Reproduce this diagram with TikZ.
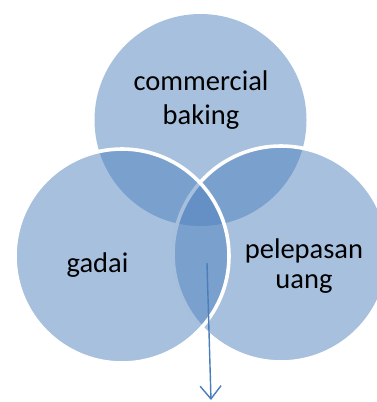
\documentclass[tikz,border=0pt]{standalone}
\usepackage{fontspec}
\setmainfont{Carlito}
\usetikzlibrary{arrows.meta}
\definecolor{vennblue}{RGB}{79,129,189}
\definecolor{arrowblue}{RGB}{74,126,187}
\tikzset{
  venn/.style={circle, fill=vennblue, fill opacity=0.5, inner sep=0pt, minimum size=#1},
  vennline/.style={draw=white, line width=3.6pt},
  lbl/.style={anchor=base, inner sep=0pt, font=\fontsize{28.5}{34}\selectfont, text=black},
  flow/.style={draw=arrowblue, line width=1.4pt, -{Straight Barb[length=13pt,width=21pt,line width=1.4pt]}}
}
\begin{document}
\begin{tikzpicture}[x=1pt,y=-1pt]
\useasboundingbox (0,0) rectangle (377,402);
\clip (0,0) rectangle (377,402);
\node[venn=212pt] (top) at (200.5,120) {};
\node[venn=216pt, vennline] (right) at (281,254) {};
\node[venn=214pt, vennline] (left) at (122,256) {};
\node[lbl] (t1) at (201,90.5) {commercial};
\node[lbl] (t2) at (201,124.5) {baking};
\node[lbl] (l1) at (97.5,272.5) {gadai};
\node[lbl] (r1) at (304,258) {pelepasan};
\node[lbl] (r2) at (304,288.5) {uang};
\coordinate (a0) at (207,263);
\coordinate (a1) at (211,400);
\draw[flow] (a0) -- (a1);
\end{tikzpicture}
\end{document}
